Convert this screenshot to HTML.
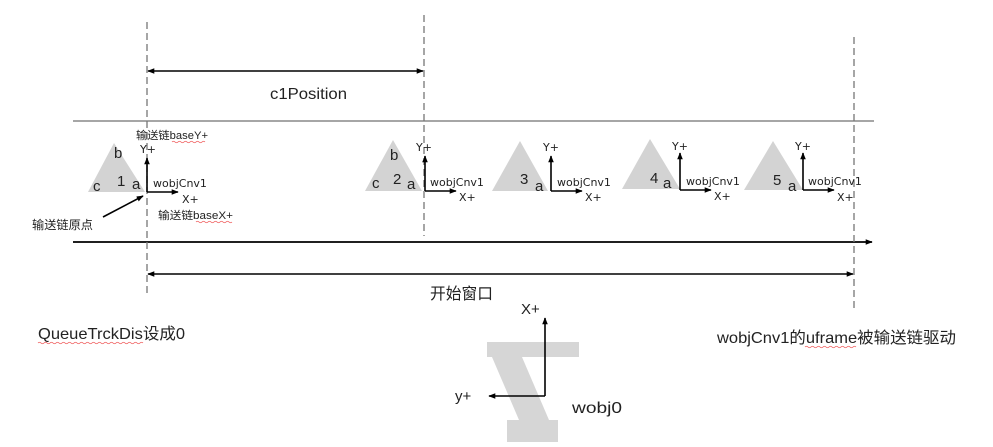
<!DOCTYPE html>
<html><head><meta charset="utf-8"><style>
html,body{margin:0;padding:0;background:#fff;width:993px;height:447px;overflow:hidden}
svg{display:block}
.s{font-family:"DejaVu Sans","Noto Sans CJK SC",sans-serif;font-size:11px;fill:#222}
.l{font-family:"Liberation Sans","Noto Sans CJK SC",sans-serif;font-size:16px;fill:#222}
.t{font-family:"Liberation Sans",sans-serif;font-size:15px;fill:#222}
.z{font-family:"Liberation Sans","Noto Sans CJK SC",sans-serif;font-size:11px;fill:#222}
</style></head><body>
<svg width="993" height="447" viewBox="0 0 993 447" xmlns="http://www.w3.org/2000/svg">
<defs>
<marker id="ah" viewBox="0 0 10 10" refX="9" refY="5" markerWidth="7" markerHeight="7" orient="auto-start-reverse" markerUnits="userSpaceOnUse">
<path d="M0,1 L10,5 L0,9 z" fill="#000"/>
</marker>
</defs>

<!-- conveyor lines -->
<line x1="73" y1="121" x2="874" y2="121" stroke="#888" stroke-width="1.5"/>
<line x1="73" y1="242" x2="872" y2="242" stroke="#000" stroke-width="1.7" marker-end="url(#ah)"/>

<!-- dashed verticals -->
<line x1="147" y1="22" x2="147" y2="295" stroke="#777" stroke-width="1.3" stroke-dasharray="7,4"/>
<line x1="424" y1="15" x2="424" y2="236" stroke="#777" stroke-width="1.3" stroke-dasharray="7,4"/>
<line x1="854" y1="37" x2="854" y2="308" stroke="#777" stroke-width="1.3" stroke-dasharray="7,4"/>

<!-- c1Position -->
<line x1="148" y1="71" x2="423" y2="71" stroke="#000" stroke-width="1.5" marker-start="url(#ah)" marker-end="url(#ah)"/>
<text class="t" x="270" y="99" textLength="77" lengthAdjust="spacingAndGlyphs" style="font-size:16px">c1Position</text>

<!-- start window -->
<line x1="148" y1="274" x2="853" y2="274" stroke="#000" stroke-width="1.5" marker-start="url(#ah)" marker-end="url(#ah)"/>
<text class="l" x="430" y="299" textLength="63" lengthAdjust="spacingAndGlyphs">开始窗口</text>

<!-- triangles -->
<g fill="#d3d3d3">
<polygon points="114,143 88,192 145,192"/>
<polygon points="393,140 365,191 422,191"/>
<polygon points="520,141 492,191 548,191"/>
<polygon points="650,139 622,189 680,189"/>
<polygon points="773,141 744,190 803,190"/>
</g>

<!-- triangle labels -->
<g class="t" style="font-size:15px">
<text x="114" y="158">b</text><text x="93" y="191">c</text><text x="117" y="186">1</text><text x="132" y="189">a</text>
<text x="390" y="160">b</text><text x="372" y="188">c</text><text x="393" y="184">2</text><text x="407" y="189">a</text>
<text x="520" y="184">3</text><text x="535" y="191">a</text>
<text x="650" y="183">4</text><text x="663" y="188">a</text>
<text x="773" y="185">5</text><text x="788" y="191">a</text>
</g>

<!-- axes -->
<g stroke="#000" stroke-width="1.6" fill="none">
<line x1="147" y1="192" x2="147" y2="158" marker-end="url(#ah)"/>
<line x1="147" y1="192" x2="178" y2="192" marker-end="url(#ah)"/>
<line x1="425" y1="191" x2="425" y2="156" marker-end="url(#ah)"/>
<line x1="425" y1="191" x2="456" y2="191" marker-end="url(#ah)"/>
<line x1="551" y1="191" x2="551" y2="156" marker-end="url(#ah)"/>
<line x1="551" y1="191" x2="582" y2="191" marker-end="url(#ah)"/>
<line x1="680" y1="190" x2="680" y2="153" marker-end="url(#ah)"/>
<line x1="680" y1="190" x2="711" y2="190" marker-end="url(#ah)"/>
<line x1="803" y1="190" x2="803" y2="153" marker-end="url(#ah)"/>
<line x1="803" y1="190" x2="834" y2="190" marker-end="url(#ah)"/>
<line x1="103" y1="217" x2="143" y2="196" marker-end="url(#ah)"/>
</g>

<g class="s">
<text x="140" y="153">Y+</text>
<text x="153" y="187">wobjCnv1</text>
<text x="182" y="203">X+</text>
<text x="416" y="151">Y+</text>
<text x="430" y="186">wobjCnv1</text>
<text x="459" y="201">X+</text>
<text x="543" y="151">Y+</text>
<text x="557" y="186">wobjCnv1</text>
<text x="585" y="201">X+</text>
<text x="672" y="150">Y+</text>
<text x="686" y="185">wobjCnv1</text>
<text x="714" y="200">X+</text>
<text x="795" y="150">Y+</text>
<text x="808" y="185">wobjCnv1</text>
<text x="837" y="201">X+</text>
</g>

<text class="z" x="136" y="139" textLength="72" lengthAdjust="spacingAndGlyphs">输送链baseY+</text>
<text class="z" x="158" y="219" textLength="75" lengthAdjust="spacingAndGlyphs">输送链baseX+</text>
<text class="z" x="32" y="229" textLength="61" lengthAdjust="spacingAndGlyphs" style="font-size:12px">输送链原点</text>
<path d="M172,142 q1.5,-1.5 3,0 t3,0 t3,0 t3,0 t3,0 t3,0 t3,0 t3,0 t3,0 t3,0 t3,0" stroke="#e55" stroke-width="0.8" fill="none"/>
<path d="M196,222 q1.5,-1.5 3,0 t3,0 t3,0 t3,0 t3,0 t3,0 t3,0 t3,0 t3,0 t3,0 t3,0 t3,0" stroke="#e55" stroke-width="0.8" fill="none"/>

<!-- bottom texts -->
<text class="l" x="38" y="339" textLength="147" lengthAdjust="spacingAndGlyphs">QueueTrckDis设成0</text>
<path d="M38,343 q1.5,-1.5 3,0 t3,0 t3,0 t3,0 t3,0 t3,0 t3,0 t3,0 t3,0 t3,0 t3,0 t3,0 t3,0 t3,0 t3,0 t3,0 t3,0 t3,0 t3,0 t3,0 t3,0 t3,0 t3,0 t3,0 t3,0 t3,0 t3,0 t3,0 t3,0 t3,0 t3,0 t3,0 t3,0 t3,0 t3,0" stroke="#e55" stroke-width="0.8" fill="none"/>
<text class="l" x="717" y="343" textLength="239" lengthAdjust="spacingAndGlyphs">wobjCnv1的uframe被输送链驱动</text>
<path d="M805,347 q1.5,-1.5 3,0 t3,0 t3,0 t3,0 t3,0 t3,0 t3,0 t3,0 t3,0 t3,0 t3,0 t3,0 t3,0 t3,0 t3,0 t3,0 t3,0" stroke="#e55" stroke-width="0.8" fill="none"/>

<!-- wobj0 -->
<polygon fill="#d6d6d6" points="487,342 579,342 579,357 522,357 549,420 558,420 558,442 507,442 507,420 519,420 492,357 487,357"/>
<line x1="545" y1="396" x2="545" y2="318" stroke="#000" stroke-width="1.6" marker-end="url(#ah)"/>
<line x1="545" y1="396" x2="489" y2="396" stroke="#000" stroke-width="1.6" marker-end="url(#ah)"/>
<text class="t" x="521" y="314" style="font-size:15px">X+</text>
<text class="t" x="455" y="401" style="font-size:15px">y+</text>
<text class="t" x="572" y="413" textLength="50" lengthAdjust="spacingAndGlyphs" style="font-size:16px">wobj0</text>
</svg>
</body></html>
